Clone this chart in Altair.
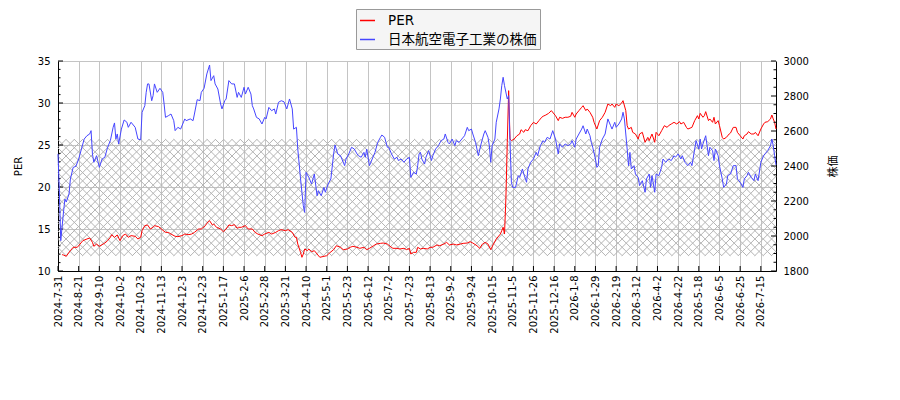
import json

import altair as alt
import pandas as pd

# trading-day index of each tick label (one label every 15 trading days)
TICK_LABELS = [
    "2024-7-31", "2024-8-21", "2024-9-10", "2024-10-2", "2024-10-23", "2024-11-13",
    "2024-12-3", "2024-12-23", "2025-1-17", "2025-2-6", "2025-2-28", "2025-3-21",
    "2025-4-10", "2025-5-1", "2025-5-23", "2025-6-12", "2025-7-2", "2025-7-23",
    "2025-8-13", "2025-9-2", "2025-9-24", "2025-10-15", "2025-11-5", "2025-11-26",
    "2025-12-16", "2026-1-8", "2026-1-29", "2026-2-19", "2026-3-12", "2026-4-2",
    "2026-4-22", "2026-5-18", "2026-6-5", "2026-6-25", "2026-7-15",
]
TICK_STEP = 15
X_MAX = 521

PER_DAY = [
    3, 4, 6, 8, 9, 11, 14, 16, 18, 21, 23, 25, 26, 28, 30, 32, 34, 36, 38, 39, 41, 43, 45, 47, 49,
    51, 53, 56, 58, 60, 61, 63, 65, 67, 69, 70, 73, 75, 78, 80, 82, 85, 87, 90, 92, 95, 97, 99,
    102, 104, 107, 108, 110, 112, 113, 115, 118, 120, 122, 124, 126, 128, 130,
    131, 133, 136, 138, 141, 143, 145, 148, 150, 153, 155, 158, 160, 162, 165, 167, 170, 172,
    173, 174, 176, 177, 178, 179, 181, 182, 184, 186, 188, 190, 193, 195, 197, 200, 202, 205,
    207, 210, 212, 214, 217, 219, 222, 224, 226, 229, 231, 234, 236, 239, 241, 243, 246, 248,
    251, 253, 255, 256, 258, 260,
    261, 263, 265, 268, 270, 272, 275, 277, 280, 282, 284, 287, 289, 292, 294, 297, 299, 301,
    304, 306, 308, 310, 312, 314, 316, 318, 321, 322, 323, 324, 325, 326, 327, 328, 329, 331,
    333, 335, 336, 338, 339, 341, 343, 345, 347, 349, 351, 352, 354, 356, 358, 360, 361, 363,
    364, 366, 368, 370, 372, 373, 375, 376, 378, 380, 381, 383, 384, 386, 388, 389, 391,
    393, 395, 397, 399, 401, 402, 404, 405, 407, 409, 410, 412, 413, 414, 416, 417, 419, 421,
    422, 424, 426, 428, 429, 431, 433, 434, 436, 438, 440, 442, 443, 445, 447, 449, 451, 452,
    454, 456, 457, 460, 462, 464, 465, 466, 468, 469, 470, 472, 473, 475, 476, 477, 479, 480,
    482, 483, 485, 487, 488, 490, 492, 493, 495, 497, 498, 500, 501, 503, 505, 506, 508, 510,
    512, 513, 515, 517, 518, 519, 520, 521,
]
PER_VALUE = [
    11.95, 11.90, 11.75, 12.22, 12.42, 12.82, 12.82, 13.21, 13.61, 13.81, 13.93, 13.41, 12.94,
    13.21, 12.94, 13.13, 13.33, 13.61, 14.01, 14.33, 14.01, 14.29, 13.61, 14.21, 14.40, 14.01,
    14.21, 14.13, 13.81, 14.01, 14.80, 15.40, 15.48, 15.00, 15.20, 15.40, 15.28, 15.00, 14.60,
    14.60, 14.40, 14.13, 14.09, 14.21, 14.40, 14.33, 14.40, 14.60, 15.00, 15.00, 15.40, 15.68,
    15.99, 15.48, 15.60, 15.20, 15.00, 14.68, 15.00, 15.48, 15.40, 15.52, 15.08,
    15.20, 15.20, 15.40, 15.00, 15.00, 14.60, 14.40, 14.21, 14.40, 14.60, 14.40, 14.60, 14.80,
    14.92, 14.80, 14.92, 14.60, 14.01, 14.01, 13.21, 12.22, 11.63, 12.02, 12.62, 12.42, 12.62,
    12.30, 12.42, 12.02, 11.63, 11.75, 11.82, 12.14, 12.54, 13.01, 12.82, 12.54, 12.62, 12.82,
    12.94, 12.82, 12.70, 12.82, 12.54, 12.70, 13.01, 13.21, 13.29, 13.33, 13.21, 12.94, 12.70,
    12.70, 12.62, 12.70, 12.54, 12.70, 12.02, 12.22, 12.22,
    12.82, 12.62, 12.70, 12.62, 12.82, 12.82, 13.10, 13.01, 13.21, 13.41, 13.10, 13.21, 13.10,
    13.21, 13.29, 13.33, 13.49, 13.33, 13.01, 12.70, 13.21, 13.41, 13.21, 12.54, 13.21, 13.81,
    14.40, 14.80, 15.20, 14.40, 18.60, 25.30, 31.47, 25.71, 25.52, 25.71, 26.10, 26.31, 26.82,
    26.51, 26.82, 26.70, 27.30, 27.70, 27.50, 27.90, 28.30, 28.42, 28.57, 28.77, 29.09, 28.69,
    28.49, 27.90, 28.30, 28.17, 28.30, 28.30, 28.42, 28.89, 28.30, 28.69, 29.09, 29.48, 29.68,
    29.09, 29.29, 28.89, 28.30, 27.70, 26.90,
    27.90, 28.30, 28.89, 29.88, 29.68, 29.88, 29.48, 29.88, 29.68, 30.00, 30.28, 29.09, 27.30,
    26.90, 27.10, 26.51, 26.31, 25.71, 26.31, 26.51, 25.32, 25.91, 25.52, 26.31, 25.32, 26.51,
    26.10, 26.70, 27.30, 27.10, 27.30, 27.50, 27.70, 27.50, 27.78, 27.50, 27.70, 27.10, 26.90,
    27.10, 27.90, 28.49, 28.10, 28.77, 28.30, 28.49, 28.97, 27.90, 28.10, 27.70, 28.30, 27.50,
    27.90, 27.30, 25.91, 25.71, 25.91, 26.31, 26.43, 27.10, 27.10, 26.51, 26.10, 25.71, 26.10,
    26.31, 26.59, 26.31, 26.31, 26.51, 26.10, 26.90, 27.50, 27.70, 27.78, 28.10, 28.57, 28.10,
    27.70, 26.90,
]

PRICE_DAY = [
    0, 1, 2, 4, 5, 6, 8, 9, 11, 13, 15, 17, 19, 21, 23, 24, 25, 26, 28, 30, 32, 34, 36, 38, 40,
    41, 42, 43, 44, 46, 48, 50, 51, 53, 56, 58, 60, 61, 63, 64, 65, 66, 68, 69, 70, 72, 74, 76,
    77, 78, 80, 82, 84, 85, 87, 89, 92, 93, 96, 98, 99, 101, 103, 104, 106, 108, 110, 111, 113,
    114, 116, 118, 119, 121, 122, 124, 126, 128, 130,
    131, 133, 135, 136, 138, 140, 141, 142, 144, 146, 148, 150, 151, 153, 155, 157, 158, 160,
    162, 164, 166, 168, 170, 171, 173, 174, 176, 177, 178, 179, 180, 182, 184, 185, 186, 188,
    189, 191, 193, 194, 196, 198, 200, 201, 203, 205, 206, 208, 209, 211, 213, 215, 217, 218,
    220, 222, 223, 224, 226, 228, 230, 232, 234, 235, 237, 239, 240, 242, 244, 246, 247, 249,
    251, 253, 255, 256, 258, 260,
    261, 262, 263, 264, 266, 267, 269, 271, 272, 274, 276, 278, 280, 281, 283, 284, 286, 288,
    289, 291, 293, 295, 297, 298, 300, 301, 303, 304, 305, 307, 309, 310, 312, 313, 314, 315,
    317, 318, 320, 321, 322, 323, 324, 326, 327, 328, 329, 330, 332, 334, 335, 337, 338, 340,
    341, 343, 345, 347, 348, 350, 352, 353, 355, 357, 359, 361, 363, 364, 366, 368, 370, 372,
    373, 375, 376, 378, 380, 381, 383, 384, 386, 387, 388, 390, 391,
    392, 393, 395, 397, 399, 401, 402, 404, 405, 407, 409, 410, 411, 413, 414, 415, 416, 418,
    419, 421, 422, 424, 426, 427, 429, 430, 431, 433, 434, 436, 438, 439, 441, 443, 445, 447,
    448, 450, 452, 453, 455, 457, 459, 460, 462, 463, 465, 466, 467, 468, 470, 472, 473, 475,
    476, 477, 479, 480, 482, 483, 485, 486, 488, 490, 492, 493, 495, 497, 498, 500, 501, 503,
    505, 506, 508, 510, 512, 513, 515, 517, 518, 519, 520, 521,
]
PRICE_VALUE = [
    2469, 2250, 1973, 2137, 2211, 2194, 2240, 2326, 2392, 2398, 2440, 2497, 2554, 2573, 2583,
    2602, 2469, 2421, 2459, 2392, 2440, 2450, 2507, 2545, 2621, 2646, 2554, 2583, 2526, 2611,
    2663, 2650, 2621, 2650, 2621, 2554, 2550, 2707, 2745, 2821, 2869, 2869, 2773, 2802, 2869,
    2821, 2844, 2821, 2754, 2678, 2687, 2697, 2659, 2602, 2621, 2611, 2669, 2659, 2669, 2659,
    2697, 2779, 2773, 2821, 2844, 2926, 2977, 2888, 2916, 2869, 2840, 2754, 2726, 2773, 2783,
    2888, 2869, 2869, 2792,
    2821, 2792, 2850, 2811, 2850, 2811, 2745, 2726, 2678, 2669, 2640, 2678, 2669, 2735, 2716,
    2726, 2697, 2764, 2773, 2767, 2726, 2783, 2726, 2611, 2621, 2497, 2326, 2250, 2173, 2135,
    2364, 2335, 2297, 2326, 2354, 2230, 2259, 2230, 2278, 2250, 2297, 2326, 2469, 2520, 2469,
    2459, 2440, 2402, 2440, 2469, 2507, 2497, 2469, 2459, 2450, 2478, 2450, 2497, 2402, 2440,
    2478, 2535, 2564, 2577, 2564, 2507, 2507, 2469, 2440, 2450, 2431, 2440, 2421, 2440, 2450,
    2335, 2364, 2354,
    2402, 2469, 2478, 2440, 2411, 2450, 2488, 2431, 2459, 2497, 2516, 2545, 2554, 2583, 2535,
    2526, 2554, 2516, 2545, 2535, 2554, 2573, 2621, 2602, 2611, 2583, 2535, 2497, 2459, 2526,
    2583, 2602, 2564, 2516, 2421, 2516, 2554, 2650, 2726, 2783, 2859, 2907, 2859, 2783, 2802,
    2535, 2307, 2278, 2278, 2345, 2335, 2383, 2354, 2307, 2383, 2421, 2440, 2478, 2459, 2516,
    2545, 2535, 2564, 2554, 2602, 2554, 2469, 2526, 2507, 2526, 2516, 2526, 2545, 2507, 2554,
    2583, 2611, 2630, 2583, 2611, 2573, 2535, 2507, 2440, 2392,
    2402, 2507, 2554, 2583, 2669, 2630, 2611, 2650, 2621, 2640, 2669, 2707, 2669, 2497, 2402,
    2478, 2383, 2402, 2354, 2335, 2288, 2316, 2250, 2326, 2354, 2278, 2345, 2250, 2354, 2345,
    2392, 2440, 2421, 2440, 2431, 2459, 2450, 2469, 2440, 2459, 2421, 2402, 2421, 2402, 2497,
    2545, 2497, 2554, 2497, 2526, 2573, 2459, 2507, 2488, 2431, 2497, 2459, 2402, 2326, 2278,
    2297, 2345, 2354, 2402, 2402, 2326, 2307, 2278, 2326, 2345, 2364, 2335, 2316, 2354, 2316,
    2421, 2459, 2469, 2488, 2516, 2554, 2516, 2459, 2406,
]

# cross-hatched PER band
BAND_LOW = 11.8
BAND_HIGH = 25.7

PER_DOMAIN = [10, 35]
PRICE_DOMAIN = [1800, 3000]
PER_MAJOR = [10, 15, 20, 25, 30, 35]
PER_MINOR = [v for v in range(10, 36) if v % 5]
PRICE_MAJOR = list(range(1800, 3001, 200))
PRICE_MINOR = [v for v in range(1800, 3001, 50) if v % 200]

W, H = 718, 210
RED = "#ff0000"
BLUE = "#4646ff"
GRID = "#c4c4c4"
HATCH = "#b4b4b4"
HATCH_GAP = 8.3
FONT = "DejaVu Sans"
CJK = "Noto Sans CJK JP"
PRICE_NAME = "日本航空電子工業の株価"


def hatch_segments(lo, hi):
    """diagonal cross lines (45 degrees on screen) filling the band"""
    kx = W / X_MAX
    ky = H / (PER_DOMAIN[1] - PER_DOMAIN[0])
    v0 = (lo - PER_DOMAIN[0]) * ky
    hb = (hi - lo) * ky
    rows = []

    def add(u1, t1, u2, t2):
        rows.append({
            "d": u1 / kx, "p": PER_DOMAIN[0] + (v0 + t1) / ky,
            "d2": u2 / kx, "p2": PER_DOMAIN[0] + (v0 + t2) / ky,
        })

    c = -hb
    while c < W:
        tlo, thi = max(0, -c), min(hb, W - c)
        if thi > tlo:
            add(c + tlo, tlo, c + thi, thi)
        c += HATCH_GAP
    c = 0
    while c < W + hb:
        tlo, thi = max(0, c - W), min(hb, c)
        if thi > tlo:
            add(c - tlo, tlo, c - thi, thi)
        c += HATCH_GAP
    return pd.DataFrame(rows)


per_df = pd.DataFrame({"d": PER_DAY, "v": PER_VALUE, "s": "PER"})
price_df = pd.DataFrame({"d": PRICE_DAY, "v": PRICE_VALUE, "s": PRICE_NAME})
hatch_df = hatch_segments(BAND_LOW, BAND_HIGH)
tick_days = [i * TICK_STEP for i in range(len(TICK_LABELS))]

x_scale = alt.Scale(domain=[0, X_MAX], nice=False, zero=False)
per_scale = alt.Scale(domain=PER_DOMAIN, nice=False, zero=False)
price_scale = alt.Scale(domain=PRICE_DOMAIN, nice=False, zero=False)

x_axis = alt.Axis(
    values=tick_days,
    labelExpr=f"{json.dumps(TICK_LABELS)}[round(datum.value / {TICK_STEP})]",
    labelAngle=-90, labelOverlap=False, labelPadding=4, ticks=False,
    grid=True, gridColor=GRID, domainColor="black",
    labelFont=FONT, labelFontSize=10, labelColor="black",
)
per_axis = alt.Axis(
    values=PER_MAJOR, format="d", ticks=False, labelPadding=8,
    grid=True, gridColor=GRID, domainColor="black",
    labelFont=FONT, labelFontSize=10, labelColor="black",
    titleFont=FONT, titleFontSize=10, titleFontWeight="normal", titleColor="black",
    titlePadding=14,
)
price_axis = alt.Axis(
    orient="right", values=PRICE_MAJOR, format="d", ticks=False, labelPadding=7,
    grid=False, domainColor="black",
    labelFont=FONT, labelFontSize=10, labelColor="black",
    titleFont=CJK, titleFontSize=11, titleFontWeight="normal", titleColor="black",
    titleAngle=270, titlePadding=30,
)


def x_enc(field):
    return alt.X(field, type="quantitative", scale=x_scale, axis=x_axis, title=None)


def per_enc(field):
    return alt.Y(field, type="quantitative", scale=per_scale, axis=per_axis, title="PER")


def price_enc(field):
    return alt.Y(field, type="quantitative", scale=price_scale, axis=price_axis, title="株価")


color_scale = alt.Scale(domain=["PER", PRICE_NAME], range=[RED, BLUE])
legend = alt.Legend(
    title=None, orient="none", legendX=298, legendY=-52, direction="vertical",
    symbolType="stroke", symbolSize=225, symbolStrokeWidth=1.5,
    labelFont=f"{FONT}, {CJK}", labelFontSize=13.5, labelColor="black", labelOffset=12,
    fillColor="#f5f5f5", strokeColor="#999999", padding=3, rowPadding=4,
)

hatch = alt.Chart(hatch_df).mark_rule(color=HATCH, strokeWidth=1).encode(
    x=x_enc("d"), x2="d2:Q", y=per_enc("p"), y2="p2:Q",
)


def y_ticks(values, y_enc, x0, x1):
    return alt.Chart(pd.DataFrame({"t": values})).mark_rule(color="black").encode(
        y=y_enc("t"), x=alt.value(x0), x2=alt.value(x1),
    )


x_ticks = alt.Chart(pd.DataFrame({"d": tick_days})).mark_rule(color="black").encode(
    x=x_enc("d"), y=alt.value(H), y2=alt.value(H - 5),
)

per_line = alt.Chart(per_df).mark_line(strokeWidth=1).encode(
    x=x_enc("d"), y=per_enc("v"),
    color=alt.Color("s:N", scale=color_scale, legend=legend),
)
price_line = alt.Chart(price_df).mark_line(strokeWidth=1).encode(
    x=x_enc("d"), y=price_enc("v"),
    color=alt.Color("s:N", scale=color_scale, legend=legend),
)

per_side = alt.layer(
    hatch,
    y_ticks(PER_MAJOR, per_enc, 0, 5),
    y_ticks(PER_MINOR, per_enc, 0, 2.5),
    x_ticks,
    per_line,
)
price_side = alt.layer(
    y_ticks(PRICE_MAJOR, price_enc, W, W - 5),
    y_ticks(PRICE_MINOR, price_enc, W, W - 2.5),
    price_line,
)

chart = (
    alt.layer(per_side, price_side)
    .resolve_scale(y="independent")
    .properties(
        width=W, height=H,
        padding={"left": 5, "top": 0, "right": 5, "bottom": 5},
        background="white",
    )
    .configure_view(strokeWidth=0)
)

chart.save("out.html", embed_options={"renderer": "svg", "actions": False})
